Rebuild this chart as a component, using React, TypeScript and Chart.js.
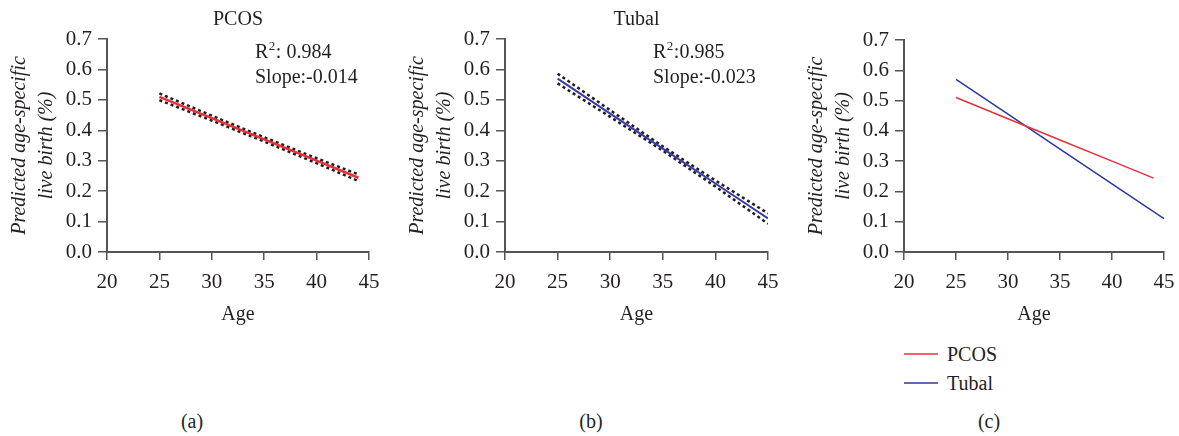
import React, { useEffect, useRef } from "react";
import { Chart, registerables } from "chart.js";

Chart.register(...registerables);

// ---------- data ----------
const pcosAges = [25, 30, 35, 40, 44];
const pcosFit = [0.51, 0.44, 0.37, 0.3, 0.244];
const pcosUpper = [0.521, 0.448, 0.377, 0.308, 0.255];
const pcosLower = [0.499, 0.432, 0.363, 0.292, 0.233];

const tubalAges = [25, 30, 35, 40, 45];
const tubalFit = [0.57, 0.455, 0.34, 0.225, 0.11];
const tubalUpper = [0.586, 0.466, 0.347, 0.235, 0.127];
const tubalLower = [0.554, 0.444, 0.333, 0.215, 0.093];

const xTicks = [20, 25, 30, 35, 40, 45];
const yTicks = [0, 0.1, 0.2, 0.3, 0.4, 0.5, 0.6, 0.7];

const pcosStats = { r2Prefix: "R", r2Sup: "2", r2Rest: ": 0.984", slope: "Slope:-0.014" };
const tubalStats = { r2Prefix: "R", r2Sup: "2", r2Rest: ":0.985", slope: "Slope:-0.023" };

const yTitle = ["Predicted age-specific", "live birth (%)"];
const xTitle = "Age";
const panelLabels = ["(a)", "(b)", "(c)"];
const legendLabels = ["PCOS", "Tubal"];

// ---------- styles ----------
const FONT = "'Liberation Serif', 'Times New Roman', serif";
const TEXT = "#231f20";
const AXIS = "#555555";
const RED = "#e8303a";
const BLUE = "#2a3899";
const BLUE_B = "#3a3aae";
const DASH = "#1e1e1e";

const CANVAS_H = 340;
const AXIS_X = 107;
const AREA_BOTTOM = 252;

const pts = (xs: number[], ys: number[]) => xs.map((x, i) => ({ x, y: ys[i] }));

function statsPlugin(stats: typeof pcosStats) {
  return {
    id: "stats",
    afterDraw(chart: any) {
      const { ctx, chartArea } = chart;
      ctx.save();
      ctx.fillStyle = TEXT;
      ctx.textBaseline = "middle";
      ctx.textAlign = "left";
      const x0 = chartArea.left + 148;
      const y1 = 53;
      const y2 = 78;
      ctx.font = `20px ${FONT}`;
      ctx.fillText(stats.r2Prefix, x0, y1);
      const w1 = ctx.measureText(stats.r2Prefix).width;
      ctx.font = `13px ${FONT}`;
      ctx.fillText(stats.r2Sup, x0 + w1 + 0.5, y1 - 6);
      const w2 = ctx.measureText(stats.r2Sup).width;
      ctx.font = `20px ${FONT}`;
      ctx.fillText(stats.r2Rest, x0 + w1 + w2 + 1, y1);
      ctx.fillText(stats.slope, x0, y2);
      ctx.restore();
    },
  };
}

function makeOptions(title: string | null, areaWidth: number, canvasW: number) {
  return {
    responsive: false,
    animation: false as const,
    layout: {
      padding: {
        left: 0,
        right: canvasW - AXIS_X - areaWidth,
        top: title ? 0 : 40,
        bottom: 0,
      },
    },
    plugins: {
      legend: { display: false },
      tooltip: { enabled: false },
      title: {
        display: !!title,
        text: title || "",
        fullSize: false,
        color: TEXT,
        font: { family: FONT, size: 20, weight: "normal" as const, lineHeight: 1.2 },
        padding: { top: 8, bottom: 7 },
      },
    },
    scales: {
      x: {
        type: "linear" as const,
        min: 20,
        max: 45,
        afterBuildTicks: (s: any) => {
          s.ticks = xTicks.map((v) => ({ value: v }));
        },
        afterFit: (s: any) => {
          s.height = CANVAS_H - AREA_BOTTOM;
        },
        grid: {
          drawOnChartArea: false,
          drawTicks: true,
          tickLength: 8,
          color: AXIS,
          lineWidth: 1.5,
        },
        border: { display: true, color: AXIS, width: 2 },
        ticks: {
          color: TEXT,
          padding: 10,
          maxRotation: 0,
          font: { family: FONT, size: 21 },
          callback: (v: any) => String(v),
        },
        title: {
          display: true,
          text: xTitle,
          color: TEXT,
          font: { family: FONT, size: 20, lineHeight: 1.2 },
          padding: { top: 0, bottom: 13 },
        },
      },
      y: {
        type: "linear" as const,
        min: 0,
        max: 0.7,
        afterBuildTicks: (s: any) => {
          s.ticks = yTicks.map((v) => ({ value: v }));
        },
        afterFit: (s: any) => {
          s.width = AXIS_X;
        },
        grid: {
          drawOnChartArea: false,
          drawTicks: true,
          tickLength: 9,
          color: AXIS,
          lineWidth: 1.5,
        },
        border: { display: true, color: AXIS, width: 2 },
        ticks: {
          color: TEXT,
          padding: 6,
          font: { family: FONT, size: 21 },
          callback: (v: any) => Number(v).toFixed(1),
        },
        title: {
          display: true,
          text: yTitle,
          color: TEXT,
          font: { family: FONT, size: 20, style: "italic" as const, lineHeight: 1.36 },
          padding: { top: 6, bottom: 0 },
        },
      },
    },
  };
}

function Panel(props: {
  left: number;
  canvasW: number;
  areaWidth: number;
  title: string | null;
  datasets: any[];
  stats?: typeof pcosStats;
}) {
  const ref = useRef<HTMLCanvasElement | null>(null);
  useEffect(() => {
    if (!ref.current) return;
    const chart = new Chart(ref.current, {
      type: "line",
      data: { datasets: props.datasets },
      options: makeOptions(props.title, props.areaWidth, props.canvasW) as any,
      plugins: props.stats ? [statsPlugin(props.stats)] : [],
    });
    return () => chart.destroy();
  }, []);
  return (
    <canvas
      ref={ref}
      width={props.canvasW}
      height={CANVAS_H}
      style={{
        position: "absolute",
        left: props.left,
        top: 0,
        width: props.canvasW,
        height: CANVAS_H,
      }}
    />
  );
}

const lineDs = (label: string, data: any[], color: string, width: number, dash: number[] = [], order = 0) => ({
  label,
  data,
  borderColor: color,
  backgroundColor: color,
  borderWidth: width,
  borderDash: dash,
  pointRadius: 0,
  fill: false,
  tension: 0,
  order,
});

export default function App() {
  const dsA = [
    lineDs("PCOS", pts(pcosAges, pcosFit), RED, 2.5, [], 0),
    lineDs("Upper", pts(pcosAges, pcosUpper), DASH, 2.5, [3, 3], 1),
    lineDs("Lower", pts(pcosAges, pcosLower), DASH, 2.5, [3, 3], 1),
  ];
  const dsB = [
    lineDs("Tubal", pts(tubalAges, tubalFit), BLUE_B, 2, [], 0),
    lineDs("Upper", pts(tubalAges, tubalUpper), DASH, 2.5, [3, 3], 1),
    lineDs("Lower", pts(tubalAges, tubalLower), DASH, 2.5, [3, 3], 1),
  ];
  const dsC = [
    lineDs("PCOS", pts(pcosAges, pcosFit), RED, 1.5),
    lineDs("Tubal", pts(tubalAges, tubalFit), BLUE, 1.5),
  ];

  const labelStyle = (cx: number, cy: number): React.CSSProperties => ({
    position: "absolute",
    left: cx - 40,
    width: 80,
    top: cy - 12,
    height: 24,
    lineHeight: "24px",
    textAlign: "center",
    fontFamily: FONT,
    fontSize: 20,
    color: TEXT,
  });

  const legendRow = (cy: number, color: string, text: string) => (
    <div key={text}>
      <div
        style={{
          position: "absolute",
          left: 904,
          width: 34,
          top: cy - 1,
          height: 0,
          borderTop: `2px solid ${color}`,
          opacity: 0.75,
        }}
      />
      <div
        style={{
          position: "absolute",
          left: 947,
          top: cy - 12,
          height: 24,
          lineHeight: "24px",
          fontFamily: FONT,
          fontSize: 20,
          color: TEXT,
          whiteSpace: "nowrap",
        }}
      >
        {text}
      </div>
    </div>
  );

  return (
    <div
      style={{
        position: "absolute",
        left: 0,
        top: 0,
        width: 1179,
        height: 436,
        background: "#ffffff",
        overflow: "hidden",
      }}
    >
      <Panel left={0} canvasW={395} areaWidth={262} title="PCOS" datasets={dsA} stats={pcosStats} />
      <Panel left={398} canvasW={395} areaWidth={263} title="Tubal" datasets={dsB} stats={tubalStats} />
      <Panel left={797} canvasW={395} areaWidth={260} title={null} datasets={dsC} />
      {legendRow(354, RED, legendLabels[0])}
      {legendRow(383, BLUE, legendLabels[1])}
      <div style={labelStyle(192, 421)}>{panelLabels[0]}</div>
      <div style={labelStyle(591, 421)}>{panelLabels[1]}</div>
      <div style={labelStyle(989, 421)}>{panelLabels[2]}</div>
    </div>
  );
}
